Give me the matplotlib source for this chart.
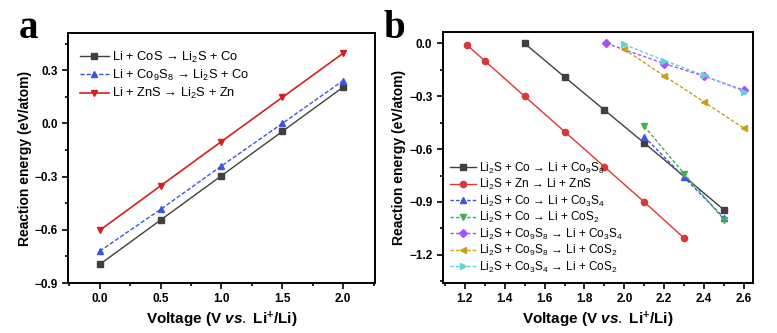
import matplotlib
matplotlib.use("Agg")
import matplotlib.pyplot as plt
from matplotlib.ticker import MultipleLocator

plt.rcParams['font.family'] = ['Liberation Sans', 'DejaVu Sans']
plt.rcParams['mathtext.fontset'] = 'custom'
plt.rcParams['mathtext.rm'] = 'Liberation Sans'
plt.rcParams['mathtext.it'] = 'Liberation Sans:italic:bold'
plt.rcParams['mathtext.bf'] = 'Liberation Sans:bold'
plt.rcParams['mathtext.default'] = 'regular'

# ---- Panel a data ----
a_x = [0.0, 0.5, 1.0, 1.5, 2.0]
a_cos = [-0.795, -0.545, -0.295, -0.045, 0.205]
a_co9s8 = [-0.72, -0.485, -0.24, 0.0, 0.242]
a_zns = [-0.603, -0.352, -0.102, 0.147, 0.396]
a_labels = ['Li + CoS → Li$_2$S + Co',
            'Li + Co$_9$S$_8$ → Li$_2$S + Co',
            'Li + ZnS → Li$_2$S + Zn']
a_xticks = [0.0, 0.5, 1.0, 1.5, 2.0]
a_yticks = [-0.9, -0.6, -0.3, 0.0, 0.3]

# ---- Panel b data ----
b1_x = [1.5, 1.7, 1.9, 2.1, 2.5]
b1_y = [0.0, -0.19, -0.378, -0.565, -0.945]
b2_x = [1.21, 1.3, 1.5, 1.7, 1.9, 2.1, 2.3]
b2_y = [-0.008, -0.099, -0.30, -0.50, -0.70, -0.90, -1.105]
b3_x = [2.1, 2.3, 2.5]
b3_y = [-0.53, -0.76, -0.99]
b4_x = [2.1, 2.3, 2.5]
b4_y = [-0.47, -0.74, -1.0]
b5_x = [1.91, 2.2, 2.4, 2.6]
b5_y = [0.0, -0.114, -0.186, -0.266]
b6_x = [2.0, 2.2, 2.4, 2.6]
b6_y = [-0.034, -0.184, -0.332, -0.482]
b7_x = [2.0, 2.2, 2.4, 2.6]
b7_y = [-0.006, -0.097, -0.182, -0.273]
b_labels = ['Li$_2$S + Co → Li + Co$_9$S$_8$',
            'Li$_2$S + Zn → Li + ZnS',
            'Li$_2$S + Co → Li + Co$_3$S$_4$',
            'Li$_2$S + Co → Li + CoS$_2$',
            'Li$_2$S + Co$_9$S$_8$ → Li + Co$_3$S$_4$',
            'Li$_2$S + Co$_9$S$_8$ → Li + CoS$_2$',
            'Li$_2$S + Co$_3$S$_4$ → Li + CoS$_2$']
b_xticks = [1.2, 1.4, 1.6, 1.8, 2.0, 2.2, 2.4, 2.6]
b_yticks = [-1.2, -0.9, -0.6, -0.3, 0.0]

fig = plt.figure(figsize=(7.77, 3.33), dpi=100)
axa = fig.add_axes([0.0875, 0.150, 0.395, 0.751])
axb = fig.add_axes([0.570, 0.150, 0.399, 0.754])

xlabel = 'Voltage (V $\\mathit{vs.}$ Li$^{+}$/Li)'
ylabel = 'Reaction energy (eV/atom)'

def style(ax):
    for s in ax.spines.values():
        s.set_linewidth(1.4)
    ax.tick_params(which='both', direction='out', top=False, right=False, width=1.2)
    ax.tick_params(which='major', length=4, labelsize=8.5)
    ax.tick_params(which='minor', length=2.5)
    for lab in ax.get_xticklabels() + ax.get_yticklabels():
        lab.set_fontweight('bold')
    ax.set_xlabel(xlabel, fontsize=11, fontweight='bold', labelpad=3)
    ax.set_ylabel(ylabel, fontsize=10, fontweight='bold', labelpad=2)

# Panel a
ms = 4.5
axa.plot(a_x, a_cos, color='#404040', lw=1.0, marker='s', ms=ms, label=a_labels[0])
axa.plot(a_x, a_co9s8, color='#3a55e0', lw=1.0, ls=(0, (3, 1.5)), marker='^', ms=ms, label=a_labels[1])
axa.plot(a_x, a_zns, color='#d42020', lw=1.2, marker='v', ms=ms, label=a_labels[2])
axa.set_xlim(-0.26, 2.26)
axa.set_ylim(-0.9, 0.51)
axa.set_xticks(a_xticks)
axa.set_yticks(a_yticks)
axa.xaxis.set_minor_locator(MultipleLocator(0.25))
axa.yaxis.set_minor_locator(MultipleLocator(0.15))
style(axa)
axa.legend(loc='upper left', frameon=False, fontsize=9.3, handlelength=2.3,
           handletextpad=0.2, labelspacing=0.25, borderaxespad=0.5,
           bbox_to_anchor=(0.0, 0.98))

# Panel b
dash = (0, (2.5, 1.5))
axb.plot(b1_x, b1_y, color='#404040', lw=1.0, marker='s', ms=ms, label=b_labels[0])
axb.plot(b2_x, b2_y, color='#d83838', lw=1.0, marker='o', ms=ms, label=b_labels[1])
axb.plot(b3_x, b3_y, color='#3a55e0', lw=1.0, ls=dash, marker='^', ms=ms, label=b_labels[2])
axb.plot(b4_x, b4_y, color='#44b04c', lw=1.0, ls=dash, marker='v', ms=ms, label=b_labels[3])
axb.plot(b5_x, b5_y, color='#a456ee', lw=1.0, ls=dash, marker='D', ms=3.8, label=b_labels[4])
axb.plot(b6_x, b6_y, color='#c8a018', lw=1.0, ls=dash, marker='<', ms=ms, label=b_labels[5])
axb.plot(b7_x, b7_y, color='#5ad6d8', lw=1.0, ls=dash, marker='>', ms=ms, label=b_labels[6])
axb.set_xlim(1.09, 2.645)
axb.set_ylim(-1.36, 0.065)
axb.set_xticks(b_xticks)
axb.set_yticks(b_yticks)
axb.xaxis.set_minor_locator(MultipleLocator(0.1))
axb.yaxis.set_minor_locator(MultipleLocator(0.15))
style(axb)
axb.legend(loc='lower left', frameon=False, fontsize=8.5, handlelength=2.2,
           handletextpad=0.3, labelspacing=0.12, borderaxespad=0.2,
           bbox_to_anchor=(0.0, 0.005))

fig.text(0.024, 0.885, 'a', fontsize=28, fontweight='bold', family='Liberation Serif')
fig.text(0.494, 0.885, 'b', fontsize=28, fontweight='bold', family='Liberation Serif')

fig.savefig('out.png', dpi=100)
